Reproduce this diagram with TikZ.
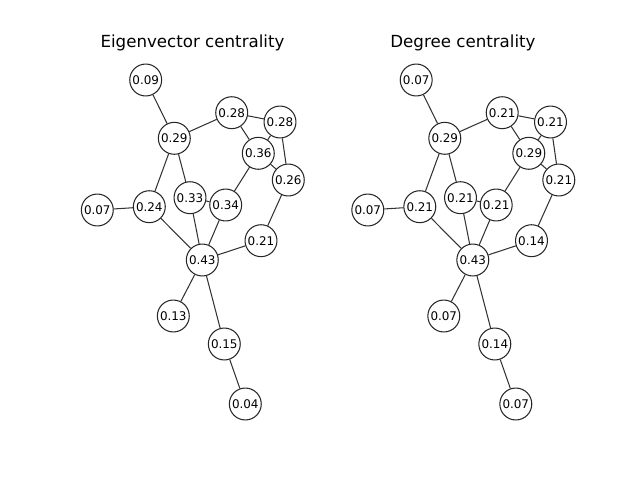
\documentclass[tikz,border=0pt]{standalone}
\usepackage{fontspec}
\setmainfont{DejaVu Sans}
\begin{document}
\begin{tikzpicture}[x=0.72pt,y=-0.72pt,
  vtx/.style={circle,draw=black!85,fill=white,line width=0.75pt,minimum size=23pt,inner sep=0pt,font=\fontsize{8.6}{10}\selectfont},
  edge/.style={draw=black!80,line width=0.75pt},
  ttl/.style={font=\fontsize{12}{14}\selectfont}]
\useasboundingbox (0,0) rectangle (640,480);
\node[ttl] (tL) at (192.5,43) {Eigenvector centrality};
\node[ttl] (tR) at (463,43) {Degree centrality};
\foreach \s/\dx/\la/\lb/\lc/\ld/\le/\lf/\lg/\lh/\li/\lj/\lk/\ll/\lm/\ln/\lo in
 {L/0/0.09/0.29/0.28/0.28/0.36/0.26/0.33/0.34/0.24/0.07/0.21/0.43/0.13/0.15/0.04,
  R/270.5/0.07/0.29/0.21/0.21/0.29/0.21/0.21/0.21/0.21/0.07/0.14/0.43/0.07/0.14/0.07}{
\begin{scope}[xshift=\dx*0.72pt]
\node[vtx] (\s a) at (145.7,80) {\la};
\node[vtx] (\s b) at (174.3,138.3) {\lb};
\node[vtx] (\s c) at (231.7,112.7) {\lc};
\node[vtx] (\s d) at (280,122) {\ld};
\node[vtx] (\s e) at (258.3,153.3) {\le};
\node[vtx] (\s f) at (288.3,180) {\lf};
\node[vtx] (\s g) at (190,197.7) {\lg};
\node[vtx] (\s h) at (225.7,205) {\lh};
\node[vtx] (\s i) at (149.3,206.7) {\li};
\node[vtx] (\s j) at (97.3,210) {\lj};
\node[vtx] (\s k) at (261,240.7) {\lk};
\node[vtx] (\s l) at (202.3,260) {\ll};
\node[vtx] (\s m) at (173.3,316) {\lm};
\node[vtx] (\s n) at (224.3,344) {\ln};
\node[vtx] (\s o) at (245.3,404) {\lo};
\foreach \u/\v in {a/b,b/c,c/d,c/e,d/e,d/f,e/f,e/h,g/h,b/i,b/g,j/i,i/l,g/l,h/l,f/k,k/l,l/m,l/n,n/o}
  \draw[edge] (\s\u) -- (\s\v);
\end{scope}
}
\end{tikzpicture}
\end{document}
